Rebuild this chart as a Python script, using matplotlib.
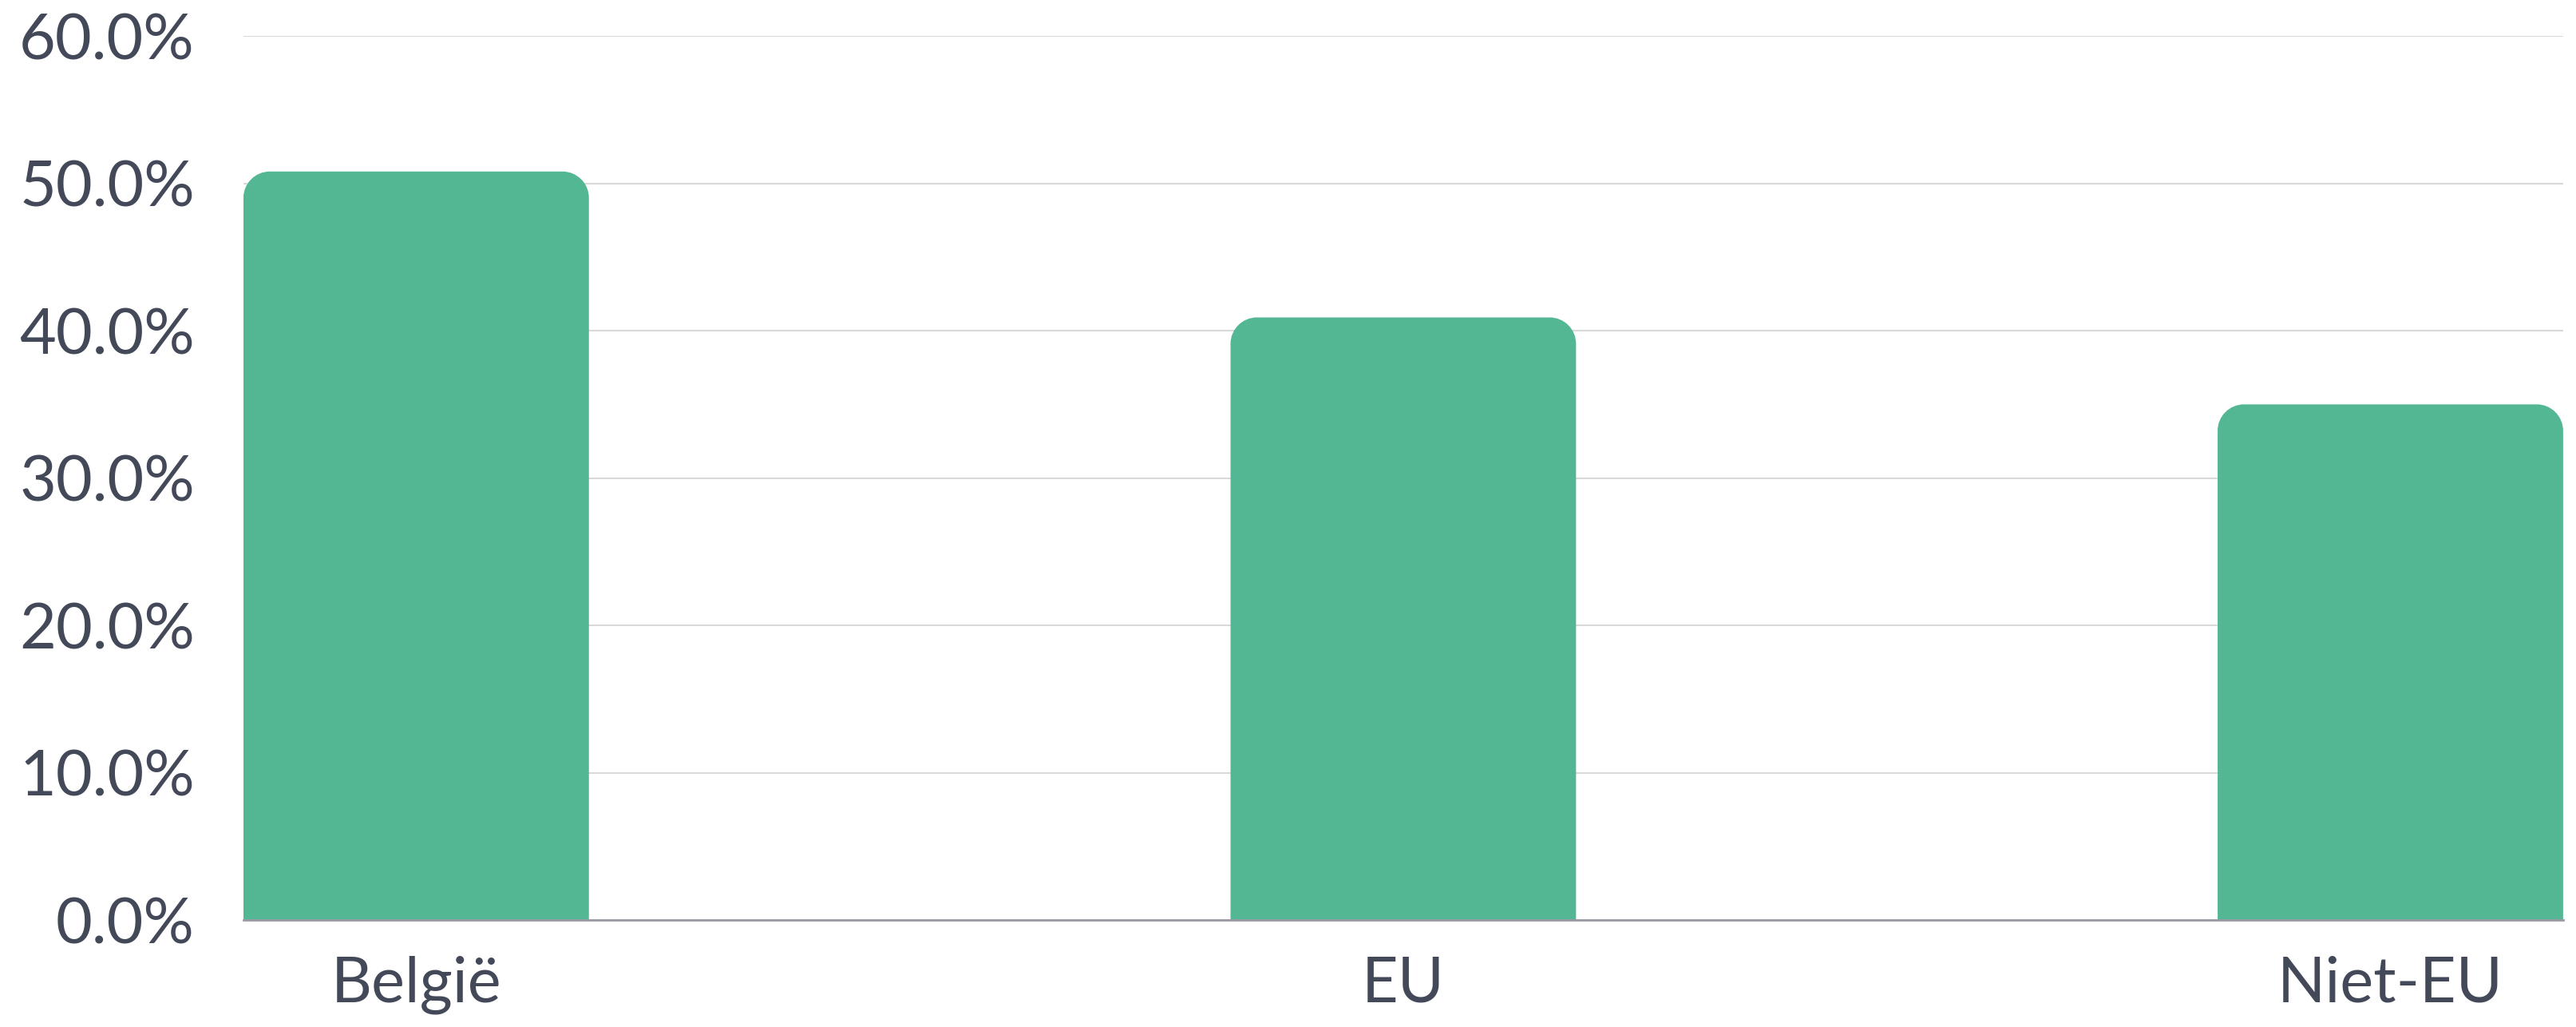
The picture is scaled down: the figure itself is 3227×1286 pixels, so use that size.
import numpy as np
import matplotlib
matplotlib.use("Agg")
import matplotlib.pyplot as plt
from matplotlib.path import Path
from matplotlib.patches import PathPatch
from matplotlib.ticker import FuncFormatter

# Data
categories = ["België", "EU", "Niet-EU"]
values = [50.8, 40.9, 35.0]
yticks = [0, 10, 20, 30, 40, 50, 60]

bar_color = "#53b794"
text_color = "#434958"

plt.rcParams['font.family'] = ['Lato', 'DejaVu Sans']

fig = plt.figure(figsize=(32.27, 12.86), dpi=100)
ax = fig.add_axes([0.0945, 0.104, 0.9005, 0.861])

x = np.arange(len(categories))
bars = ax.bar(x, values, width=0.35, color=bar_color, zorder=2)
ax.set_xlim(-0.175, len(categories) - 1 + 0.175)
ax.set_ylim(0, 60)


def rounded_top(x0, y0, w, h, rx, ry):
    k = 0.5523
    verts = [
        (x0, y0), (x0, y0 + h - ry),
        (x0, y0 + h - ry + k * ry), (x0 + rx - k * rx, y0 + h), (x0 + rx, y0 + h),
        (x0 + w - rx, y0 + h),
        (x0 + w - rx + k * rx, y0 + h), (x0 + w, y0 + h - ry + k * ry), (x0 + w, y0 + h - ry),
        (x0 + w, y0), (x0, y0),
    ]
    codes = [Path.MOVETO, Path.LINETO,
             Path.CURVE4, Path.CURVE4, Path.CURVE4,
             Path.LINETO,
             Path.CURVE4, Path.CURVE4, Path.CURVE4,
             Path.LINETO, Path.CLOSEPOLY]
    return Path(verts, codes)


# corner radius in pixels -> data units
radius_px = 33
bbox = ax.get_window_extent()
rx = radius_px * (ax.get_xlim()[1] - ax.get_xlim()[0]) / bbox.width
ry = radius_px * (ax.get_ylim()[1] - ax.get_ylim()[0]) / bbox.height
for b in bars:
    b.set_visible(False)
    p = rounded_top(b.get_x(), b.get_y(), b.get_width(), b.get_height(), rx, ry)
    ax.add_patch(PathPatch(p, facecolor=bar_color, edgecolor="none", zorder=2))

ax.set_yticks(yticks)
ax.yaxis.set_major_formatter(FuncFormatter(lambda v, _: f"{v:.1f}%"))
ax.set_xticks(x)
ax.set_xticklabels(categories)

ax.grid(axis='y', color='#d9d9dc', linewidth=1.5, zorder=0)
ax.set_axisbelow(True)
for s in ['top', 'right', 'left']:
    ax.spines[s].set_visible(False)
ax.spines['bottom'].set_color('#9a9aa2')
ax.spines['bottom'].set_linewidth(2)
ax.spines['bottom'].set_zorder(3)

ax.tick_params(axis='y', length=0, pad=44, labelsize=57, labelcolor=text_color)
ax.tick_params(axis='x', length=0, pad=32, labelsize=57, labelcolor=text_color)

fig.savefig("out.png", dpi=100, facecolor="white")
